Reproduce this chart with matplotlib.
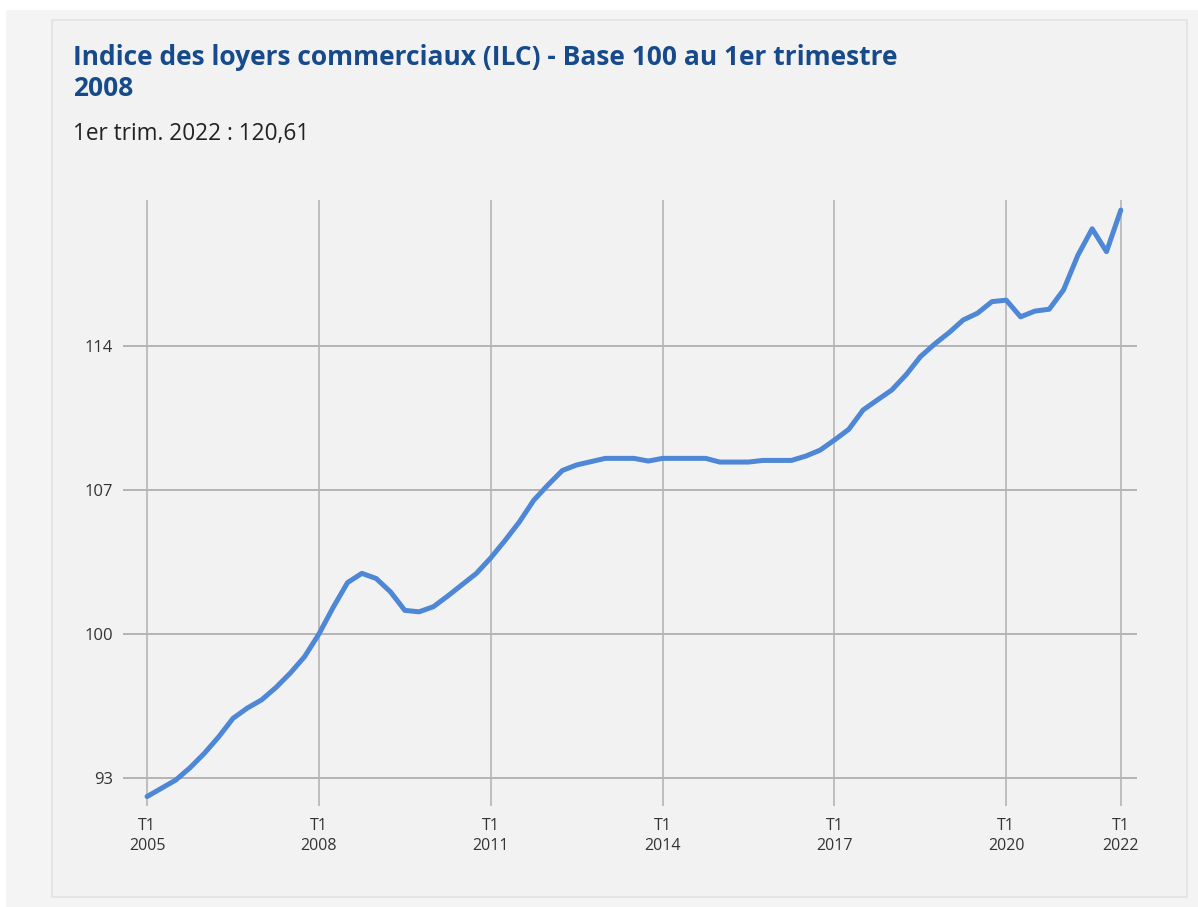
import matplotlib.pyplot as plt
from matplotlib.patches import Rectangle

# Indice ILC trimestriel, T1 2005 -> T1 2022 (base 100 au T1 2008)
valeurs = [
    92.10, 92.50, 92.90, 93.50, 94.20, 95.00, 95.90, 96.40,   # 2005-2006
    96.80, 97.40, 98.10, 98.90, 100.00, 101.30, 102.50, 102.95,  # 2007-2008
    102.70, 102.05, 101.15, 101.08, 101.33, 101.85, 102.40, 102.95,  # 2009-2010
    103.70, 104.55, 105.45, 106.50, 107.25, 107.95, 108.22, 108.38,  # 2011-2012
    108.54, 108.54, 108.54, 108.41, 108.54, 108.54, 108.54, 108.54,  # 2013-2014
    108.36, 108.36, 108.36, 108.44, 108.44, 108.44, 108.65, 108.94,  # 2015-2016
    109.43, 109.95, 110.89, 111.38, 111.86, 112.60, 113.48, 114.10,  # 2017-2018
    114.65, 115.27, 115.60, 116.16, 116.23, 115.42, 115.70, 115.79,  # 2019-2020
    116.73, 118.41, 119.70, 118.59, 120.61,                          # 2021-2022
]
trimestres = list(range(len(valeurs)))

ticks_x = [0, 12, 24, 36, 48, 60, 68]
labels_x = ["T1\n2005", "T1\n2008", "T1\n2011", "T1\n2014", "T1\n2017", "T1\n2020", "T1\n2022"]
ticks_y = [93, 100, 107, 114]

titre = "Indice des loyers commerciaux (ILC) - Base 100 au 1er trimestre"
titre2 = "2008"
sous_titre = "1er trim. 2022 : 120,61"

W, H = 1198, 907
fig = plt.figure(figsize=(W / 100, H / 100), dpi=100, facecolor="white")

# fonds (coordonnées en pixels convertis en fraction de figure)
def rect(x0, y0, x1, y1, **kw):
    fig.patches.append(Rectangle((x0 / W, 1 - y1 / H), (x1 - x0) / W, (y1 - y0) / H,
                                 transform=fig.transFigure, figure=fig, zorder=-5, **kw))

rect(6, 10, 1198, 907, facecolor="#f4f4f4", edgecolor="none")
rect(52, 20, 1187, 897, facecolor="#f2f2f2", edgecolor="#e2e2e2", linewidth=1.2)

fig.text(73 / W, 1 - 65 / H, titre, fontsize=19, fontweight="bold", color="#174a8b",
         family="Open Sans", va="baseline")
fig.text(73 / W, 1 - 96 / H, titre2, fontsize=19, fontweight="bold", color="#174a8b",
         family="Open Sans", va="baseline")
fig.text(73 / W, 1 - 140 / H, sous_titre, fontsize=16.3, color="#222222",
         family="Open Sans", va="baseline")

ax = fig.add_axes([123 / W, 1 - 806 / H, (1137 - 123) / W, (806 - 200) / H])
ax.set_facecolor("none")
ax.set_xlim(-1.68, 69.13)
ax.set_ylim(91.64, 121.1)

for x in ticks_x:
    ax.axvline(x, color="#b0b0b0", linewidth=1.1, zorder=1)
for y in ticks_y:
    ax.axhline(y, color="#b4b4b4", linewidth=1.4, zorder=1)

ax.plot(trimestres, valeurs, color="#4d87d6", linewidth=3.6, solid_joinstyle="round",
        solid_capstyle="round", zorder=3)

ax.set_xticks(ticks_x)
ax.set_xticklabels(labels_x, family="Open Sans", fontsize=11.5, color="#333333",
                   linespacing=1.25)
ax.set_yticks(ticks_y)
ax.set_yticklabels([str(v) for v in ticks_y], family="Open Sans", fontsize=12, color="#333333")
ax.tick_params(axis="x", length=0, pad=9)
ax.tick_params(axis="y", length=0, pad=7)
for s in ax.spines.values():
    s.set_visible(False)

fig.savefig("out.png", dpi=100, facecolor=fig.get_facecolor())
